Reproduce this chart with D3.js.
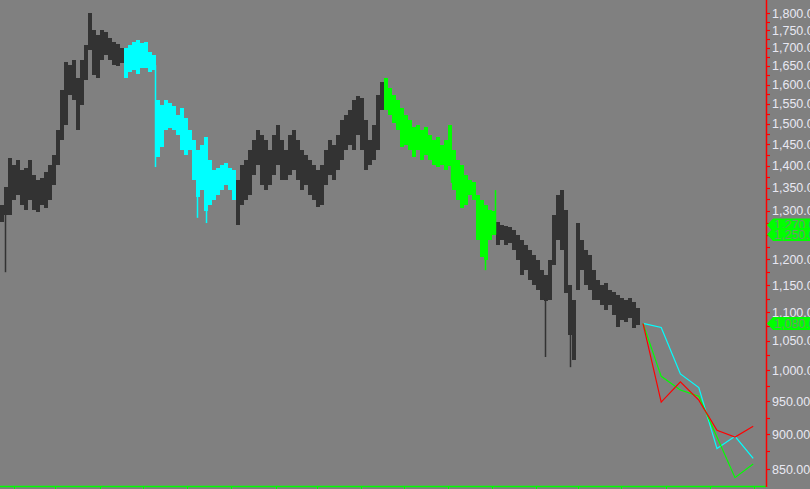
<!DOCTYPE html>
<html><head><meta charset="utf-8">
<script src="https://cdn.jsdelivr.net/npm/d3@7"></script>
<style>
body{margin:0;background:#808080;overflow:hidden}
svg{display:block}
</style></head>
<body><svg id="c" width="810" height="489"></svg>
<script>
// ---- data ----
const barHigh = [1312,1352,1418,1402,1413,1390,1395,1413,1379,1367,1372,1386,1402,1425,1485,1586,1661,1652,1666,1617,
1666,1708,1800,1750,1736,1750,1745,1728,1716,1711,1699,1699,1708,1716,1722,1713,1716,1688,1680,1560,
1547,1560,1552,1545,1522,1540,1514,1485,1461,1437,1449,1468,1413,1390,1395,1402,1406,1395,1390,1367,
1402,1413,1437,1461,1485,1473,1461,1437,1473,1497,1461,1437,1473,1485,1461,1437,1425,1413,1402,1390,
1402,1437,1461,1449,1473,1509,1522,1534,1560,1570,1565,1509,1461,1497,1573,1607,1617,1591,1573,1560,
1540,1522,1509,1492,1497,1485,1492,1473,1461,1468,1449,1461,1497,1437,1413,1402,1379,1367,1363,1334,
1323,1312,1302,1300,1276,1270,1268,1266,1260,1249,1239,1229,1219,1209,1199,1179,1170,1199,1291,1334,
1345,1302,1151,1123,1274,1239,1219,1209,1179,1160,1151,1154,1141,1137,1132,1126,1123,1126,1119,1108];
const barLow = [1276,1290,1291,1323,1334,1312,1302,1323,1302,1297,1312,1306,1323,1356,1402,1460,1497,1573,1560,1485,
1547,1612,1694,1625,1617,1666,1680,1666,1652,1650,1658,1617,1633,1639,1628,1644,1644,1633,1639,1420,
1444,1485,1490,1485,1473,1437,1425,1437,1367,1330,1345,1300,1312,1323,1334,1345,1356,1345,1323,1270,
1312,1323,1334,1379,1402,1356,1345,1356,1379,1402,1367,1367,1379,1390,1367,1345,1356,1334,1323,1308,
1312,1356,1379,1367,1390,1413,1437,1449,1437,1473,1437,1390,1402,1413,1437,1534,1534,1522,1502,1485,
1444,1449,1437,1420,1437,1413,1425,1413,1402,1397,1402,1390,1400,1345,1323,1306,1312,1334,1323,1239,
1205,1199,1239,1249,1229,1239,1229,1233,1219,1199,1170,1179,1160,1151,1141,1123,1120,1123,1189,1239,
1219,1135,1060,1017,1141,1179,1151,1141,1123,1123,1113,1104,1113,1095,1074,1086,1083,1090,1072,1077];
const cyanRange = [31, 58];
const greenRange = [96, 123];

// thin single-bar spikes (wicks)
const spikePos  = [1.25, 38.8, 49.3, 51.5, 112.8, 121.2, 123.8, 136.2, 142.6];
const spikeHigh = [1300, 1652, 1340, 1310, 1420, 1210, 1345, 1125, 1060];
const spikeLow  = [1175, 1397, 1285, 1274, 1361, 1179, 1250, 1022, 1005];

const forecastPos   = [160.75, 165.3, 170.1, 174.7, 179.25, 183.75, 188.3];
const forecastCyan  = [1080, 1073, 994, 972, 879, 897, 865];
const forecastRed   = [1080, 949, 981, 952, 906, 896, 912];
const forecastGreen = [1080, 990, 968, 958, 896, 838, 857];

const priceTicks = [850,900,950,1000,1050,1100,1150,1200,1250,1300,1350,1400,1450,1500,1550,1600,1650,1700,1750,1800];
const minorTicks = [875,925,975,1025,1075,1125,1175,1225,1275,1325,1375,1425,1475,1525,1575,1625,1675,1725,1775];
const markerValues = [1270, 1250, 1080];
const timeTicks = [3.6,13.7,25,35.8,46.8,57.8,68.9,79.2,90.2,101.1,112.1,123,134.1,144.6,155.2,166.5,177.6,188.4];

// ---- chart ----
const svg = d3.select("#c");
const W = 810, H = 489, axisX = 766, baseY = 486;
svg.append("rect").attr("width", W).attr("height", H).attr("fill", "#808080");

const x = d3.scaleLinear().domain([0, 160]).range([0, 640]);
const y = d3.scaleLog().domain([850, 1800]).range([469, 13]);

function barColor(i){
  if (i >= cyanRange[0] && i <= cyanRange[1]) return "#00ffff";
  if (i >= greenRange[0] && i <= greenRange[1]) return "#00ff00";
  return "#333333";
}
const bars = barHigh.map((h, i) => ({i, h, l: barLow[i]}));
svg.append("g").selectAll("rect").data(bars).join("rect")
  .attr("x", d => x(d.i))
  .attr("width", d => x(d.i + 1) - x(d.i))
  .attr("y", d => y(d.h))
  .attr("height", d => Math.max(1, y(d.l) - y(d.h)))
  .attr("fill", d => barColor(d.i))
  .attr("shape-rendering", "crispEdges");

const spikes = spikePos.map((p, k) => ({p, h: spikeHigh[k], l: spikeLow[k]}));
svg.append("g").selectAll("line").data(spikes).join("line")
  .attr("x1", d => Math.round(x(d.p)) + 0.5).attr("x2", d => Math.round(x(d.p)) + 0.5)
  .attr("y1", d => y(d.h)).attr("y2", d => y(d.l))
  .attr("stroke", d => barColor(Math.floor(d.p)))
  .attr("stroke-width", 1.5);

const line = d3.line().x(d => x(d[0])).y(d => y(d[1]));
[[forecastCyan, "#00ffff"], [forecastGreen, "#00ff00"], [forecastRed, "#ff0000"]].forEach(([vals, c]) => {
  svg.append("path").datum(vals.map((v, k) => [forecastPos[k], v]))
    .attr("d", line).attr("fill", "none").attr("stroke", c).attr("stroke-width", 1.2);
});

// bottom time axis
svg.append("line").attr("x1", 0).attr("x2", axisX).attr("y1", baseY + 0.5).attr("y2", baseY + 0.5)
  .attr("stroke", "#00ff00").attr("stroke-width", 1.5);
svg.append("g").selectAll("line").data(timeTicks).join("line")
  .attr("x1", d => Math.round(x(d)) + 0.5).attr("x2", d => Math.round(x(d)) + 0.5)
  .attr("y1", baseY).attr("y2", H).attr("stroke", "#00ff00").attr("stroke-width", 1);

// right price axis
svg.append("line").attr("x1", axisX + 0.5).attr("x2", axisX + 0.5).attr("y1", 0).attr("y2", baseY + 1)
  .attr("stroke", "#ff0000").attr("stroke-width", 1.5);
svg.append("g").selectAll("line").data(priceTicks.concat(minorTicks)).join("line")
  .attr("x1", axisX).attr("x2", axisX + 4)
  .attr("y1", d => Math.round(y(d)) + 0.5).attr("y2", d => Math.round(y(d)) + 0.5)
  .attr("stroke", "#ff0000").attr("stroke-width", 1.2);

const fmt = d3.format(",.2f");
svg.append("g").selectAll("text").data(priceTicks).join("text")
  .attr("x", axisX + 6).attr("y", d => y(d))
  .attr("dy", "0.36em")
  .attr("fill", "#e8e8f2")
  .attr("font-family", "Liberation Sans, Arial, sans-serif")
  .attr("font-size", 12.5)
  .text(d => fmt(d));

// price markers
const mk = svg.append("g");
markerValues.forEach(v => {
  const yy = y(v);
  mk.append("path")
    .attr("d", `M${axisX + 1},${yy} L${axisX + 7},${yy - 6.5} L${W},${yy - 6.5} L${W},${yy + 6.5} L${axisX + 7},${yy + 6.5} Z`)
    .attr("fill", "#00ff00");
  mk.append("text")
    .attr("x", axisX + 8).attr("y", yy).attr("dy", "0.36em")
    .attr("fill", "#6a9a6a")
    .attr("font-family", "Liberation Sans, Arial, sans-serif")
    .attr("font-size", 12.5)
    .text(fmt(v));
});
</script>
</body></html>
